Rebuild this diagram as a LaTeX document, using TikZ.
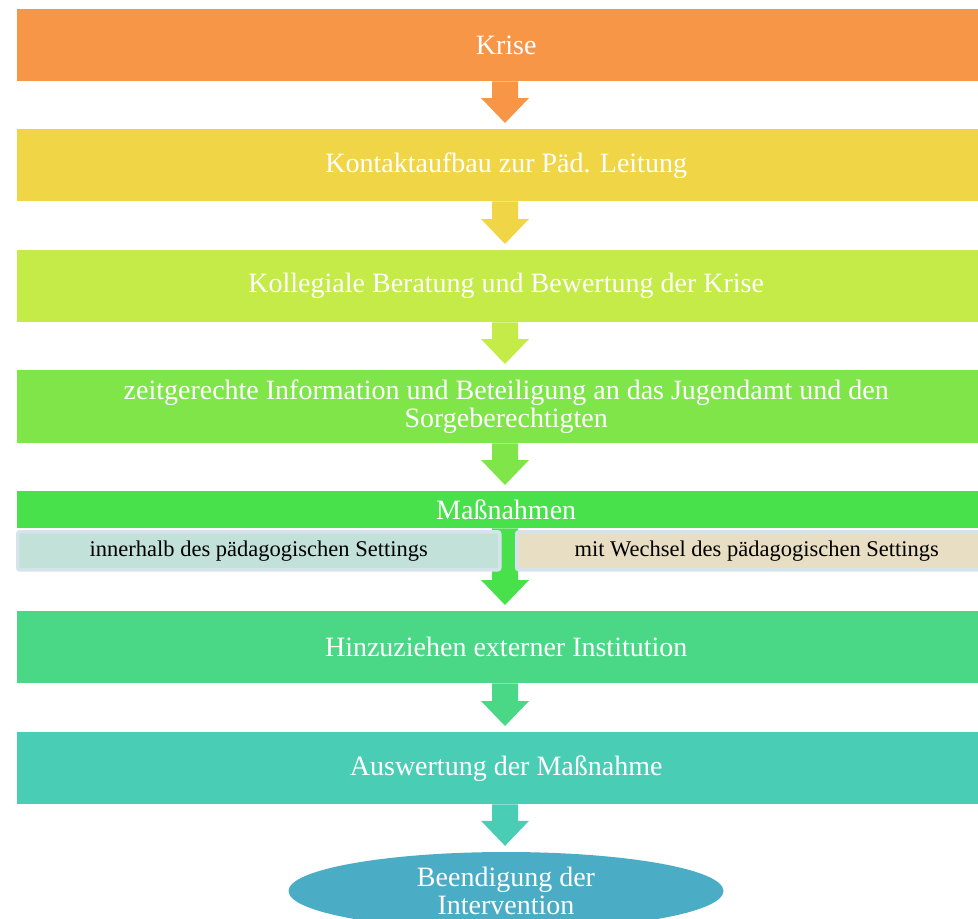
\documentclass[tikz,border=0pt]{standalone}
\usepackage{fontspec}
\setmainfont{Liberation Serif}
\usetikzlibrary{calc,shapes.geometric}
\definecolor{cA}{HTML}{F79646}
\definecolor{cB}{HTML}{F0D646}
\definecolor{cC}{HTML}{C4EB48}
\definecolor{cD}{HTML}{80E548}
\definecolor{cE}{HTML}{48E04B}
\definecolor{cF}{HTML}{4AD886}
\definecolor{cG}{HTML}{49CEB5}
\definecolor{cH}{HTML}{4BACC6}
\definecolor{subL}{HTML}{C2E1D9}
\definecolor{subR}{HTML}{E8DEC3}
\definecolor{subBorder}{HTML}{D5E3EA}
\newcommand\flowarrow[3]{%
  \fill[#1] let \p1=($(#2.south west)+(488,0)$), \p2=(#3.north) in
    (\x1-13pt,\y1) -- (\x1+13pt,\y1) -- (\x1+13pt,\y2+31pt) -- (\x1+24pt,\y2+31pt)
    -- (\x1,\y2+6pt) -- (\x1-24pt,\y2+31pt) -- (\x1-13pt,\y2+31pt) -- cycle;}
\begin{document}
\begin{tikzpicture}[x=1pt,y=-1pt,
  box/.style={rectangle, minimum width=978pt, minimum height=72pt, inner sep=0pt,
    text=white, font=\fontsize{28}{28}\selectfont, align=center, anchor=north west},
  subbox/.style={rectangle, draw=subBorder, line width=3.5pt, rounded corners=2pt,
    minimum height=38pt, inner sep=0pt, text=black,
    font=\fontsize{22.5}{24}\selectfont, anchor=north west},
  endshape/.style={ellipse, fill=cH, minimum width=435pt, minimum height=78pt,
    inner sep=0pt, text=white, font=\fontsize{28}{28}\selectfont, align=center}]
\useasboundingbox (0,0) rectangle (978,919);
\node[box, fill=cA] (b1) at (17,9) {Krise};
\node[box, fill=cB] (b2) at (17,129) {Kontaktaufbau zur Päd. Leitung};
\node[box, fill=cC] (b3) at (17,250) {Kollegiale Beratung und Bewertung der Krise};
\node[box, fill=cD, minimum height=73pt] (b4) at (17,370) {zeitgerechte Information und Beteiligung an das Jugendamt und den\\Sorgeberechtigten};
\node[box, fill=cE, minimum height=37pt] (m) at (17,491) {Maßnahmen};
\node[box, fill=cF] (b6) at (17,611) {Hinzuziehen externer Institution};
\node[box, fill=cG] (b7) at (17,732) {Auswertung der Maßnahme};
\node[endshape] (e) at (506,891) {Beendigung der\\Intervention};
\flowarrow{cA}{b1}{b2}
\flowarrow{cB}{b2}{b3}
\flowarrow{cC}{b3}{b4}
\flowarrow{cD}{b4}{m}
\flowarrow{cE}{m}{b6}
\flowarrow{cF}{b6}{b7}
\flowarrow{cG}{b7}{e}
\node[subbox, fill=subL, minimum width=482pt] (s1) at (16,530) {innerhalb des pädagogischen Settings};
\node[subbox, fill=subR, minimum width=480pt] (s2) at (515,530) {mit Wechsel des pädagogischen Settings};
\end{tikzpicture}
\end{document}
